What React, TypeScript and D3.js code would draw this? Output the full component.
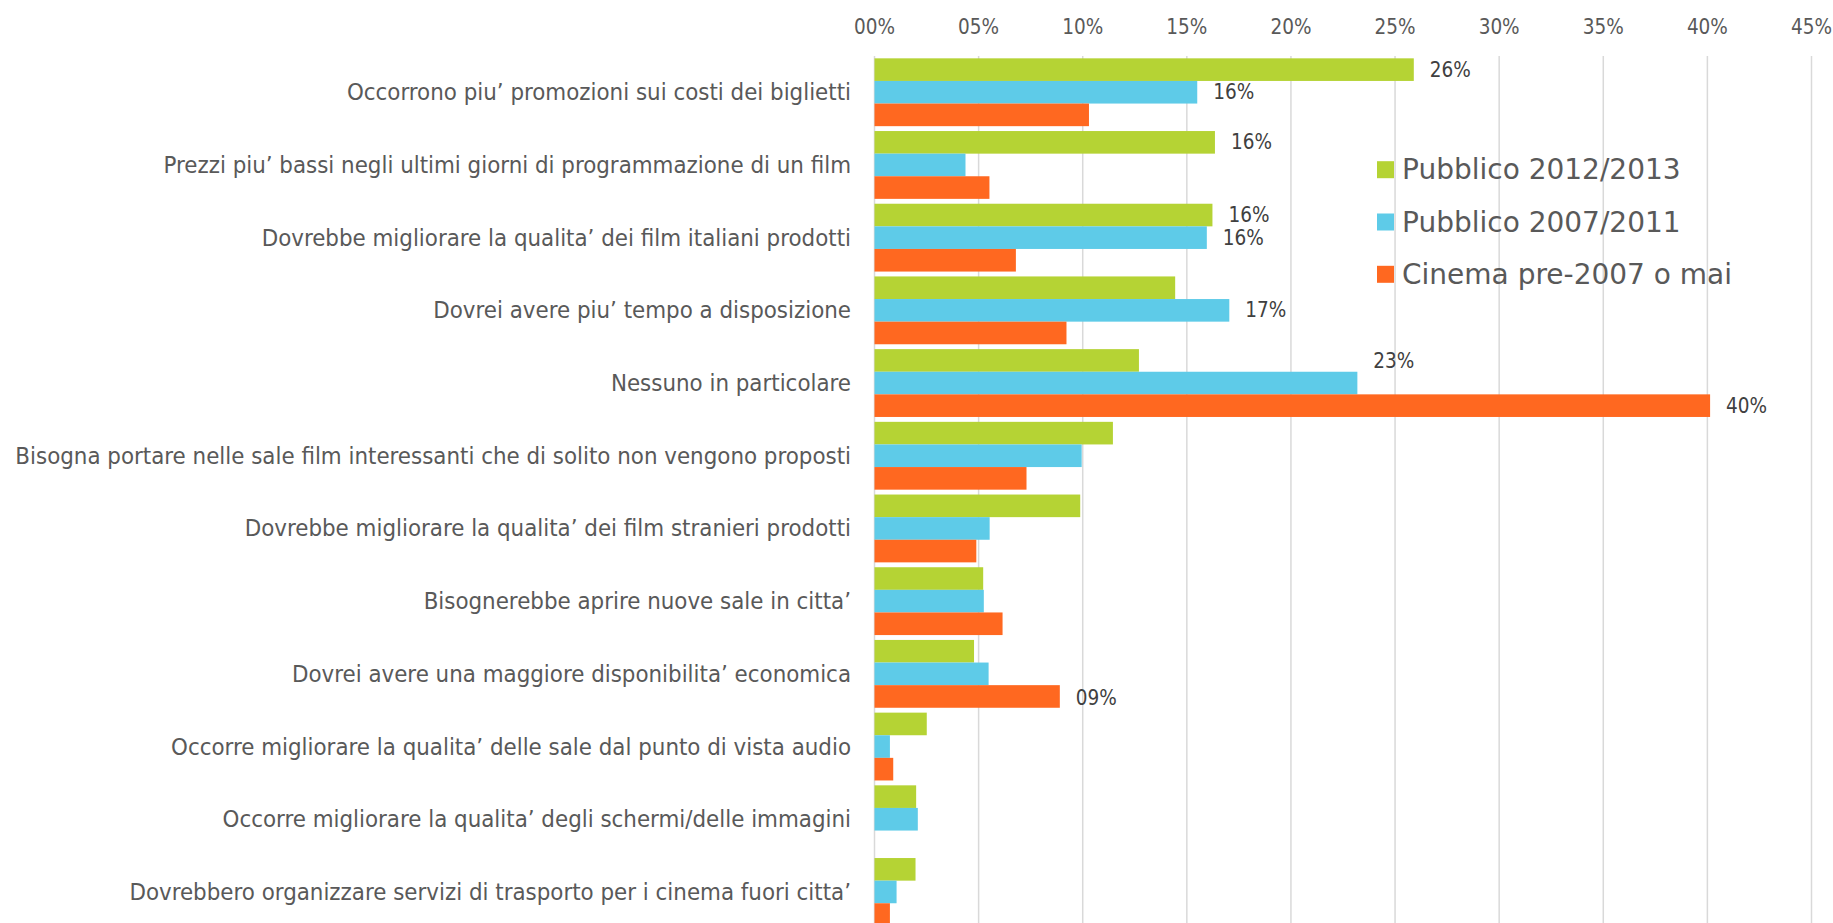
import React from "react";
import * as d3 from "d3";

const categories = [
  "Occorrono piu’ promozioni sui costi dei biglietti",
  "Prezzi piu’ bassi negli ultimi giorni di programmazione di un film",
  "Dovrebbe migliorare la qualita’ dei film italiani prodotti",
  "Dovrei avere piu’ tempo a disposizione",
  "Nessuno in particolare",
  "Bisogna portare nelle sale film interessanti che di solito non vengono proposti",
  "Dovrebbe migliorare la qualita’ dei film stranieri prodotti",
  "Bisognerebbe aprire nuove sale in citta’",
  "Dovrei avere una maggiore disponibilita’ economica",
  "Occorre migliorare la qualita’ delle sale dal punto di vista audio",
  "Occorre migliorare la qualita’ degli schermi/delle immagini",
  "Dovrebbero organizzare servizi di trasporto per i cinema fuori citta’",
];

const seriesNames = ["Pubblico 2012/2013", "Pubblico 2007/2011", "Cinema pre-2007 o mai"];
const seriesColors = ["#B5D334", "#5ECBE8", "#FF6820"];

const pubblico2012 = [25.9, 16.35, 16.23, 14.44, 12.7, 11.45, 9.88, 5.22, 4.78, 2.51, 2.0, 1.97];
const pubblico2007 = [15.5, 4.37, 15.96, 17.04, 23.19, 9.95, 5.53, 5.25, 5.48, 0.74, 2.08, 1.06];
const cinemaPre2007 = [10.3, 5.52, 6.79, 9.22, 40.13, 7.3, 4.89, 6.15, 8.9, 0.9, 0, 0.74];

const tickValues = [0, 5, 10, 15, 20, 25, 30, 35, 40, 45];
const tickLabels = ["00%", "05%", "10%", "15%", "20%", "25%", "30%", "35%", "40%", "45%"];

// data labels: [category index, series index, text, dy offset]
const dataLabels: [number, number, string, number][] = [
  [0, 0, "26%", 0],
  [0, 1, "16%", 0],
  [1, 0, "16%", 0],
  [2, 0, "16%", 0],
  [2, 1, "16%", 0],
  [3, 1, "17%", 0],
  [4, 1, "23%", -22],
  [4, 2, "40%", 0],
  [8, 2, "09%", 2],
];

const series = [pubblico2012, pubblico2007, cinemaPre2007];

export default function App() {
  const W = 1833;
  const H = 923;
  const x = d3.scaleLinear().domain([0, 45]).range([874.5, 1811.5]);
  const y = d3
    .scaleBand<string>()
    .domain(categories)
    .range([55.9, 55.9 + 12 * 72.7])
    .paddingInner(0.067)
    .paddingOuter(0.0335);
  const inner = d3
    .scaleBand<number>()
    .domain([0, 1, 2])
    .range([0, y.bandwidth()]);

  const labelFont = "'DejaVu Sans Condensed', 'DejaVu Sans', sans-serif";

  return (
    <svg
      width={W}
      height={H}
      style={{ position: "absolute", left: 0, top: 0, background: "#fff" }}
      fontFamily={labelFont}
    >
      {/* gridlines */}
      {tickValues.map((t, i) => (
        <line
          key={"g" + i}
          x1={x(t)}
          x2={x(t)}
          y1={56}
          y2={H}
          stroke="#D9D9D9"
          strokeWidth={1.5}
        />
      ))}
      {/* tick labels */}
      {tickValues.map((t, i) => (
        <text
          key={"t" + i}
          x={x(t)}
          y={27}
          textAnchor="middle"
          dominantBaseline="central"
          fontSize={20.5}
          fill="#595959"
        >
          {tickLabels[i]}
        </text>
      ))}
      {/* bars */}
      {categories.map((c, ci) => (
        <g key={"c" + ci}>
          {series.map((s, si) => (
            <rect
              key={si}
              x={x(0)}
              y={(y(c) as number) + (inner(si) as number)}
              width={Math.max(0, x(s[ci]) - x(0))}
              height={inner.bandwidth()}
              fill={seriesColors[si]}
            />
          ))}
          <text
            x={851}
            y={(y(c) as number) + y.bandwidth() / 2}
            textAnchor="end"
            dominantBaseline="central"
            fontSize={23.8}
            fill="#595959"
          >
            {c}
          </text>
        </g>
      ))}
      {/* data labels */}
      {dataLabels.map(([ci, si, txt, dy], k) => (
        <text
          key={"d" + k}
          x={x(series[si][ci]) + 16}
          y={(y(categories[ci]) as number) + (inner(si) as number) + inner.bandwidth() / 2 + dy}
          dominantBaseline="central"
          fontSize={20.5}
          fill="#404040"
        >
          {txt}
        </text>
      ))}
      {/* legend */}
      {seriesNames.map((n, i) => {
        const cy = 169.7 + i * 52.3;
        return (
          <g key={"l" + i}>
            <rect x={1377} y={cy - 8.5} width={17} height={17} fill={seriesColors[i]} />
            <text
              x={1402}
              y={cy}
              dominantBaseline="central"
              fontSize={28}
              fontFamily="'DejaVu Sans', sans-serif"
              fill="#595959"
            >
              {n}
            </text>
          </g>
        );
      })}
    </svg>
  );
}
